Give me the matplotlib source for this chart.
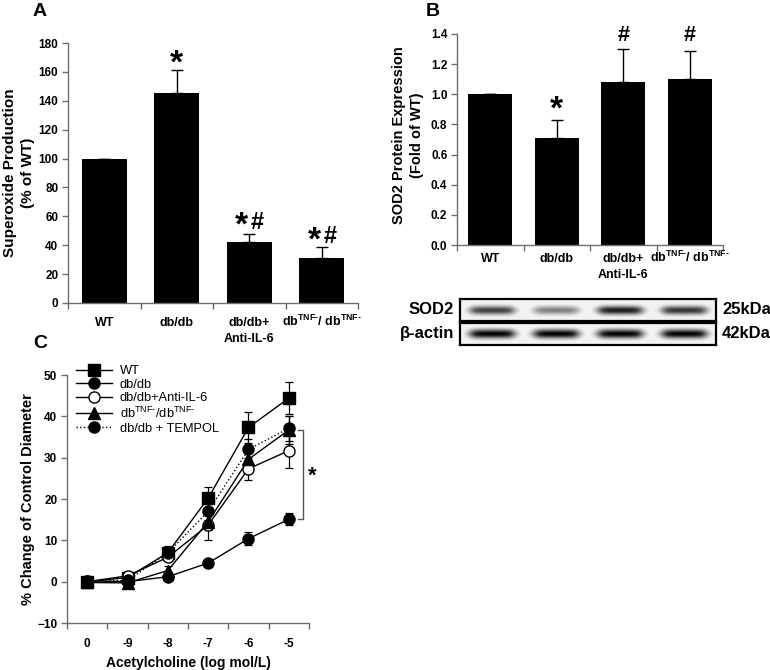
import numpy as np
import matplotlib
matplotlib.use('Agg')
import matplotlib.pyplot as plt

plt.rcParams['font.family'] = ['Liberation Sans', 'DejaVu Sans']
plt.rcParams['mathtext.default'] = 'regular'

# ---------------- data ----------------
groups = ['WT', 'db/db', 'db/db+\nAnti-IL-6', 'db$^{TNF\u2010}$/ db$^{TNF\u2010}$']

# Panel A: superoxide production (% of WT)
a_values = [100, 145.5, 42.5, 31.2]
a_errors = [0, 16.0, 5.3, 7.8]
a_marks = ['', '*', '*#', '*#']

# Panel B: SOD2 protein expression (fold of WT)
b_values = [1.0, 0.71, 1.08, 1.10]
b_errors = [0, 0.12, 0.22, 0.19]
b_marks = ['', '*', '#', '#']

# Western blot
blot_rows = ['SOD2', 'β-actin']
blot_sizes = ['25kDa', '42kDa']
sod2_bands = [0.75, 0.50, 0.90, 0.80]
actin_bands = [1.0, 1.0, 1.0, 1.0]

# Panel C: % change of control diameter
ach_doses = ['0', '-9', '-8', '-7', '-6', '-5']
c_labels = ['WT', 'db/db', 'db/db+Anti-IL-6', 'db$^{TNF\u2010}$/db$^{TNF\u2010}$', 'db/db + TEMPOL']
wt_mean = [0.0, 1.0, 7.0, 20.2, 37.3, 44.4]
wt_err = [0.2, 0.3, 1.7, 2.6, 3.8, 3.8]
dbdb_mean = [0.2, 0.0, 1.2, 4.5, 10.4, 15.1]
dbdb_err = [0.2, 0.2, 0.3, 0.4, 1.5, 1.5]
il6_mean = [0.0, 1.4, 5.9, 13.7, 27.3, 31.7]
il6_err = [0.3, 0.5, 1.0, 3.6, 2.6, 4.2]
tnf_mean = [-0.2, -0.3, 2.7, 14.5, 29.6, 36.7]
tnf_err = [0.3, 0.3, 1.0, 2.0, 3.0, 3.5]
tempol_mean = [0.2, 0.3, 7.0, 17.0, 32.0, 37.1]
tempol_err = [0.3, 0.3, 1.2, 2.0, 2.5, 3.0]

# ---------------- figure ----------------
W, H = 770, 670
fig = plt.figure(figsize=(W / 100, H / 100), dpi=100)


def px_axes(l, t, r, b):
    return fig.add_axes([l / W, 1 - b / H, (r - l) / W, (b - t) / H])


AX_COL = '#6e6e6e'


def style_axes(ax):
    for s in ['top', 'right']:
        ax.spines[s].set_visible(False)
    for s in ['left', 'bottom']:
        ax.spines[s].set_color(AX_COL)
        ax.spines[s].set_linewidth(1)
    ax.tick_params(which='major', direction='out', length=4, width=1, color=AX_COL,
                   labelsize=8.5)
    for lab in ax.get_yticklabels():
        lab.set_fontweight('bold')


def bar_panel(ax, values, errors, marks, ylim, yticks, fmt, mark_y, bw, lab_off,
              hash_size):
    n = len(values)
    x = np.arange(n) + 0.5
    ax.bar(x, values, width=bw, color='black', zorder=2)
    ax.errorbar(x, values, yerr=[np.zeros(n), errors], fmt='none', ecolor='black',
                elinewidth=1, capsize=4, capthick=1, zorder=3)
    ax.set_xlim(0, n)
    ax.set_ylim(*ylim)
    ax.set_yticks(yticks)
    ax.set_yticklabels([fmt.format(v) for v in yticks], fontweight='bold')
    ax.set_xticks(np.arange(n + 1))
    ax.set_xticklabels([])
    style_axes(ax)
    ax.tick_params(axis='y', pad=3)
    for xi, g in zip(x, groups):
        for k, line in enumerate(g.split('\n')):
            ax.annotate(line, (xi, 0), xycoords=('data', 'axes fraction'),
                        xytext=(0, -lab_off - 11.5 * k), textcoords='offset points',
                        ha='center', va='baseline', fontsize=9, fontweight='bold',
                        annotation_clip=False)
    for i, m in enumerate(marks):
        if not m:
            continue
        yy = mark_y[i]
        if m == '*':
            ax.annotate('*', (x[i], yy), xytext=(0, -4), textcoords='offset points',
                        ha='center', va='center', fontsize=24, fontweight='bold')
        elif m == '#':
            ax.annotate('#', (x[i], yy), ha='center', va='center', fontsize=hash_size,
                        fontweight='bold', annotation_clip=False)
        else:
            ax.annotate('*', (x[i], yy), xytext=(-5.5, -4), textcoords='offset points',
                        ha='center', va='center', fontsize=24, fontweight='bold')
            ax.annotate('#', (x[i], yy), xytext=(6, -1), textcoords='offset points',
                        ha='center', va='center', fontsize=hash_size, fontweight='bold')


# Panel A
axA = px_axes(68, 43, 358, 303)
bar_panel(axA, a_values, a_errors, a_marks, (0, 180), np.arange(0, 181, 20), '{:.0f}',
          [0, 169, 57, 47], 0.62, 16.5, 17)
fig.text(19 / W, 1 - 173 / H, 'Superoxide Production\n(% of WT)', rotation=90,
         ha='center', va='center', fontsize=11, fontweight='bold', linespacing=1.35)
fig.text(33 / W, 1 - 12 / H, 'A', fontsize=14, fontweight='bold', ha='left', va='center')

# Panel B
axB = px_axes(457, 34, 723, 245)
bar_panel(axB, b_values, b_errors, b_marks, (0, 1.4), np.arange(0, 1.41, 0.2), '{:.1f}',
          [0, 0.93, 1.39, 1.39], 0.66, 12.5, 15.5)
fig.text(408 / W, 1 - 135 / H, 'SOD2 Protein Expression\n(Fold of WT)', rotation=90,
         ha='center', va='center', fontsize=10.5, fontweight='bold', linespacing=1.35)
fig.text(426 / W, 1 - 12 / H, 'B', fontsize=14, fontweight='bold', ha='left', va='center')


# Western blot
def blot(ax, bands, sig):
    h, w = 40, 512
    yy, xx = np.mgrid[0:h, 0:w]
    img = np.full((h, w), 0.05)
    centers = (np.arange(len(bands)) + 0.5) / len(bands) * w
    half = w / len(bands) * 0.34
    for c, inten in zip(centers, bands):
        xw = 1 / (1 + np.exp(-(xx - (c - half)) / 6)) * 1 / (1 + np.exp((xx - (c + half)) / 6))
        yw = np.exp(-((yy - h / 2) / (h * sig)) ** 2)
        img = np.maximum(img, inten * xw * yw)
    ax.imshow(img, cmap='gray_r', vmin=0, vmax=1, aspect='auto', extent=[0, 1, 0, 1])
    ax.set_xticks([])
    ax.set_yticks([])
    for s in ax.spines.values():
        s.set_linewidth(1.6)
        s.set_color('black')


axS = px_axes(460, 299, 716, 321)
blot(axS, sod2_bands, 0.2)
axT = px_axes(460, 323, 716, 345)
blot(axT, actin_bands, 0.2)
for name, size, yc in zip(blot_rows, blot_sizes, [310, 334]):
    fig.text(454 / W, 1 - yc / H, name, ha='right', va='center', fontsize=12, fontweight='bold')
    fig.text(722 / W, 1 - yc / H, size, ha='left', va='center', fontsize=12, fontweight='bold')

# Panel C
axC = px_axes(67, 375, 309, 623)
xc = np.arange(len(ach_doses)) + 0.5
series = [
    (wt_mean, wt_err, 's', 'black', '-'),
    (dbdb_mean, dbdb_err, 'o', 'black', '-'),
    (il6_mean, il6_err, 'o', 'white', '-'),
    (tnf_mean, tnf_err, '^', 'black', '-'),
    (tempol_mean, tempol_err, 'o', 'black', ':'),
]
for (m, e, mk, fc, ls), lab in zip(series, c_labels):
    axC.errorbar(xc, m, yerr=e, fmt='none', ecolor='black', elinewidth=0.9, capsize=3,
                 capthick=0.9, zorder=2)
    axC.plot(xc, m, linestyle=ls, color='black', linewidth=1, marker=mk, markersize=8,
             markerfacecolor=fc, markeredgecolor='black', markeredgewidth=1, label=lab,
             zorder=3)
axC.set_xlim(0, len(ach_doses))
axC.set_ylim(-10, 50)
axC.set_yticks(np.arange(-10, 51, 10))
axC.set_xticks(np.arange(len(ach_doses) + 1))
axC.set_xticklabels([])
axC.set_xticks(xc, minor=True)
axC.set_xticklabels(ach_doses, minor=True, fontweight='bold', fontsize=8.5)
style_axes(axC)
axC.tick_params(axis='x', which='minor', length=0, pad=11)
axC.tick_params(axis='y', pad=3)
axC.set_xlabel('Acetylcholine (log mol/L)', fontsize=10, fontweight='bold', labelpad=4)
fig.text(28 / W, 1 - 499 / H, '% Change of Control Diameter', rotation=90, ha='center',
         va='center', fontsize=10.5, fontweight='bold')
fig.text(33 / W, 1 - 343 / H, 'C', fontsize=14, fontweight='bold', ha='left', va='center')

leg = axC.legend(loc='upper left', bbox_to_anchor=(76 / W, 1 - 365 / H),
                 bbox_transform=fig.transFigure, frameon=False, fontsize=9.3,
                 handlelength=2.8, handletextpad=0.6, labelspacing=0.12, borderpad=0,
                 borderaxespad=0, numpoints=1)

# significance bracket
xb = 5.85
axC.plot([xb - 0.12, xb, xb, xb - 0.12], [tnf_mean[-1], tnf_mean[-1], dbdb_mean[-1],
         dbdb_mean[-1]], color='#555555', linewidth=1, clip_on=False)
axC.annotate('*', (xb + 0.24, (tnf_mean[-1] + dbdb_mean[-1]) / 2), xytext=(0, -1),
             textcoords='offset points', ha='center', va='center', fontsize=16,
             fontweight='bold', annotation_clip=False)

fig.savefig('out.png', dpi=100)
